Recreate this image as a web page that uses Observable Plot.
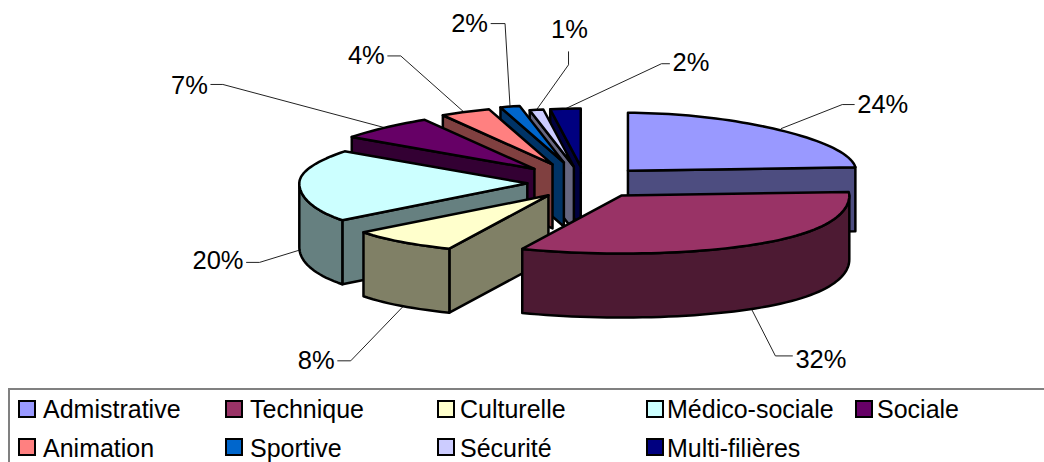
<!DOCTYPE html>
<html><head><meta charset="utf-8">
<script src="https://cdn.jsdelivr.net/npm/d3@7"></script>
<script src="https://cdn.jsdelivr.net/npm/@observablehq/plot@0.6"></script>
<style>
html,body{margin:0;padding:0;background:#fff;overflow:hidden}
#wrap{position:relative;width:1044px;height:462px;font-family:"Liberation Sans",Arial,sans-serif}
#wrap svg{display:block;position:absolute;left:0;top:0}
#legend{position:absolute;left:8px;top:388px;width:1036px;height:74px;border-top:2px solid #808080;border-left:2px solid #808080;box-sizing:border-box}
.sw{position:absolute;width:18px;height:18px;box-sizing:border-box;border:2.5px solid #000}
.tx{position:absolute;height:28px;line-height:28px;font-size:25px;color:#000;white-space:nowrap}
</style></head><body>
<div id="wrap"><div id="legend"></div></div>
<script>
const categories = ["Admistrative","Technique","Culturelle","Médico-sociale","Sociale","Animation","Sportive","Sécurité","Multi-filières"];
const shares = [24.0,32.4,7.6,20.3,6.8,3.8,1.55,1.1,2.45];
const pctLabels = ["24%","32%","8%","20%","7%","4%","2%","1%","2%"];
const topColors = ["#9999FF","#993366","#FFFFCC","#CCFFFF","#660066","#FF8080","#0066CC","#CCCCFF","#000080"];
const wallColors = ["#4D4D80","#4D1A33","#808066","#668080","#330033","#804040","#003366","#666680","#000040"];
const paintOrder = [8,7,6,5,4,3,0,2,1];
const explodeScale = [1,1,1,0.94,1.18,1.25,1.3,1,1];
// leader layout, relative to each slice's rim point
const leaderAttach = [[8,0],[-14,0],[3,0],[-1,0],[-2,0],[-2,0],[0,0],[0,0],[0,0]];
const leaderElbow = [[61,-24],[25,49],[-53,55],[-39,12],[-161,-43],[-63,-56],[-5,-83],[32,-45],[96,-45]];
const leaderTail = [[12,0],[17,0],[-13,0],[-13,0],[-12,0],[-13,0],[-14,0],[0,-13],[8,0]];
const labelNudge = [0,4,0,-2,1,0,0,-1,-1];
const swatchCols = [18,225,437,646,855], textCols = [43,250,460,667,877];
const swatchRows = [400,438], textRows = [395,434];

const W=1044,H=388;
const cx=585,cy=182,ex=62,ey=16,rx=228,ry=58,depth=64,k=0.13;
const rad=d=>d*Math.PI/180;
let cum=0;
const slices=shares.map((s,i)=>{const a0=cum*3.6;cum+=s;const a1=cum*3.6;const m=(a0+a1)/2;const e=explodeScale[i];
  return {i,a0,a1,m,ax:cx+e*ex*Math.sin(rad(m)),ay:cy-e*ey*Math.cos(rad(m))};});
const rim=(s,t,z=0)=>{const c=-Math.cos(rad(t));return {x:s.ax+rx*Math.sin(rad(t))*(1+k*c*Math.abs(c)),y:s.ay+ry*c+z*depth};};
const apex=(s,z=0)=>({x:s.ax,y:s.ay+z*depth});
const arc=(s,a,b,z=0)=>{const n=Math.max(2,Math.ceil(Math.abs(b-a)/2));return d3.range(n+1).map(j=>rim(s,a+(b-a)*j/n,z));};

const pieces=[];
let nextId=0;
const add=(pts,fill)=>{const id=nextId++;pts.forEach(p=>pieces.push({x:p.x,y:p.y,id,fill}));};
for(const idx of paintOrder){
  const s=slices[idx],wall=wallColors[idx];
  const radial=t=>add([apex(s),rim(s,t),rim(s,t,1),apex(s,1)],wall);
  if(s.a0>180&&s.a0<360)radial(s.a0);
  if(s.a1>0&&s.a1<180)radial(s.a1);
  const lo=Math.max(s.a0,90),hi=Math.min(s.a1,270);
  if(hi>lo)add([...arc(s,lo,hi),...arc(s,hi,lo,1)],wall);
  add([apex(s),...arc(s,s.a0,s.a1)],topColors[idx]);
}
const leaders=[],labels=[];
slices.forEach((s,i)=>{
  const front=s.m>90&&s.m<270;
  const r=rim(s,s.m,front?1:0);
  const p={x:r.x+leaderAttach[i][0],y:r.y+leaderAttach[i][1]};
  const e={x:p.x+leaderElbow[i][0],y:p.y+leaderElbow[i][1]};
  const t={x:e.x+leaderTail[i][0],y:e.y+leaderTail[i][1]};
  [p,e,t].forEach(q=>leaders.push({...q,i}));
  const dx=leaderTail[i][0];
  labels.push({x:t.x+(dx>0?3:dx<0?-3:1),y:t.y+(dx===0?-21:0)+labelNudge[i],text:pctLabels[i],anchor:dx>0?"start":dx<0?"end":"middle"});
});

const chart=Plot.plot({
  width:W,height:H,margin:0,
  x:{domain:[0,W],range:[0,W],axis:null},
  y:{domain:[0,H],range:[0,H],axis:null},
  style:{background:"transparent"},
  marks:[
    Plot.line(leaders,{x:"x",y:"y",z:"i",stroke:"#222",strokeWidth:1,curve:"linear"}),
    Plot.line(pieces,{x:"x",y:"y",z:"id",fill:"fill",stroke:"#000",strokeWidth:2.5,curve:"linear-closed",strokeLinejoin:"round"}),
    ...["start","end","middle"].map(a=>Plot.text(labels.filter(d=>d.anchor===a),{x:"x",y:"y",text:"text",textAnchor:a,fontSize:25.5,fontFamily:"Liberation Sans",fill:"#000"}))
  ]
});
const wrap=document.getElementById("wrap");
wrap.prepend(chart);
categories.forEach((c,i)=>{
  const col=i%5,row=Math.floor(i/5);
  const sw=document.createElement("div");sw.className="sw";
  sw.style.left=swatchCols[col]+"px";sw.style.top=swatchRows[row]+"px";sw.style.background=topColors[i];
  const tx=document.createElement("div");tx.className="tx";
  tx.style.left=textCols[col]+"px";tx.style.top=textRows[row]+"px";tx.textContent=c;
  wrap.appendChild(sw);wrap.appendChild(tx);
});
</script>
</body></html>
